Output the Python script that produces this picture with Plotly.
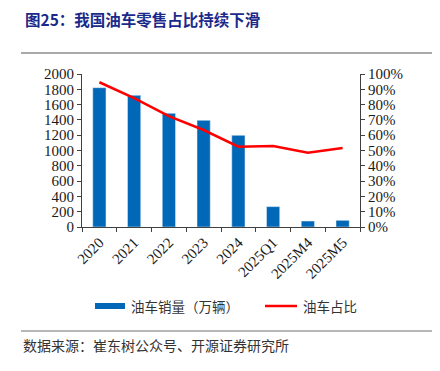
import plotly.graph_objects as go

categories = ["2020", "2021", "2022", "2023", "2024", "2025Q1", "2025M4", "2025M5"]
sales = [1821, 1721, 1486, 1394, 1198, 266, 78, 87]
share = [0.946, 0.842, 0.725, 0.634, 0.525, 0.530, 0.486, 0.516]
title_text = "图25：我国油车零售占比持续下滑"
legend_bar = "油车销量（万辆）"
legend_line = "油车占比"
source_text = "数据来源：崔东树公众号、开源证券研究所"

BLUE = "#0068B7"
RED = "#FF0000"
SERIF = "Liberation Serif, Times New Roman, serif"
CJK = "Noto Sans CJK SC"

OFF = 8  # page body margin
W, H = 440 - OFF, 371 - OFF
L, T = 82 - OFF, 74 - OFF
pw, ph = 278, 153
R = W - L - pw
B = H - T - ph

def px(x):
    return (x - OFF - L) / pw

def py(y):
    return (T + ph - (y - OFF)) / ph

fig = go.Figure()
fig.add_trace(go.Bar(x=categories, y=sales, marker_color=BLUE, width=0.38,
                     name=legend_bar, showlegend=False))
fig.add_trace(go.Scatter(x=categories, y=share, yaxis="y2", mode="lines",
                         line=dict(color=RED, width=2.5), name=legend_line,
                         showlegend=False))

shapes = [
    dict(type="line", xref="paper", yref="paper", x0=px(21), x1=px(433), y0=py(53), y1=py(53),
         line=dict(color="#8c8c8c", width=1.5)),
    dict(type="line", xref="paper", yref="paper", x0=px(21), x1=px(433), y0=py(331), y1=py(331),
         line=dict(color="#6e6e6e", width=1)),
    dict(type="rect", xref="paper", yref="paper", x0=px(95), x1=px(125), y0=py(309), y1=py(303),
         fillcolor=BLUE, line=dict(width=0)),
    dict(type="line", xref="paper", yref="paper", x0=px(265), x1=px(297), y0=py(306), y1=py(306),
         line=dict(color=RED, width=2.5)),
]

annotations = [
    dict(text="<b>" + title_text + "</b>", xref="paper", yref="paper", x=px(23), y=py(19),
         xanchor="left", yanchor="middle", showarrow=False,
         font=dict(family=CJK, size=15.5, color="#1B2A8A")),
    dict(text=legend_bar, xref="paper", yref="paper", x=px(129), y=py(306),
         xanchor="left", yanchor="middle", showarrow=False,
         font=dict(family=CJK, size=13.5, color="#333333")),
    dict(text=legend_line, xref="paper", yref="paper", x=px(301), y=py(306),
         xanchor="left", yanchor="middle", showarrow=False,
         font=dict(family=CJK, size=13.5, color="#333333")),
    dict(text=source_text, xref="paper", yref="paper", x=px(21), y=py(345),
         xanchor="left", yanchor="middle", showarrow=False,
         font=dict(family=CJK, size=14, color="#333333")),
]

fig.update_layout(
    width=W, height=H,
    margin=dict(l=L, r=R, t=T, b=B, pad=0),
    paper_bgcolor="white", plot_bgcolor="white",
    showlegend=False,
    xaxis=dict(showline=True, linecolor="#404040", linewidth=1, ticks="outside",
               tickson="boundaries", ticklen=4, tickcolor="#404040", tickangle=-45,
               showgrid=False, tickfont=dict(family=SERIF, size=15, color="#1a1a1a")),
    yaxis=dict(range=[0, 2000], dtick=200, showline=True, linecolor="#404040", linewidth=1,
               ticks="outside", ticklen=4, tickcolor="#404040", showgrid=False,
               zeroline=False, tickfont=dict(family=SERIF, size=15, color="#1a1a1a")),
    yaxis2=dict(range=[0, 1], dtick=0.1, tickformat=".0%", overlaying="y", side="right",
                showline=True, linecolor="#404040", linewidth=1, ticks="outside", ticklen=4,
                tickcolor="#404040", showgrid=False, zeroline=False,
                tickfont=dict(family=SERIF, size=15, color="#1a1a1a")),
    shapes=shapes,
    annotations=annotations,
)

fig.write_html("out.html")
